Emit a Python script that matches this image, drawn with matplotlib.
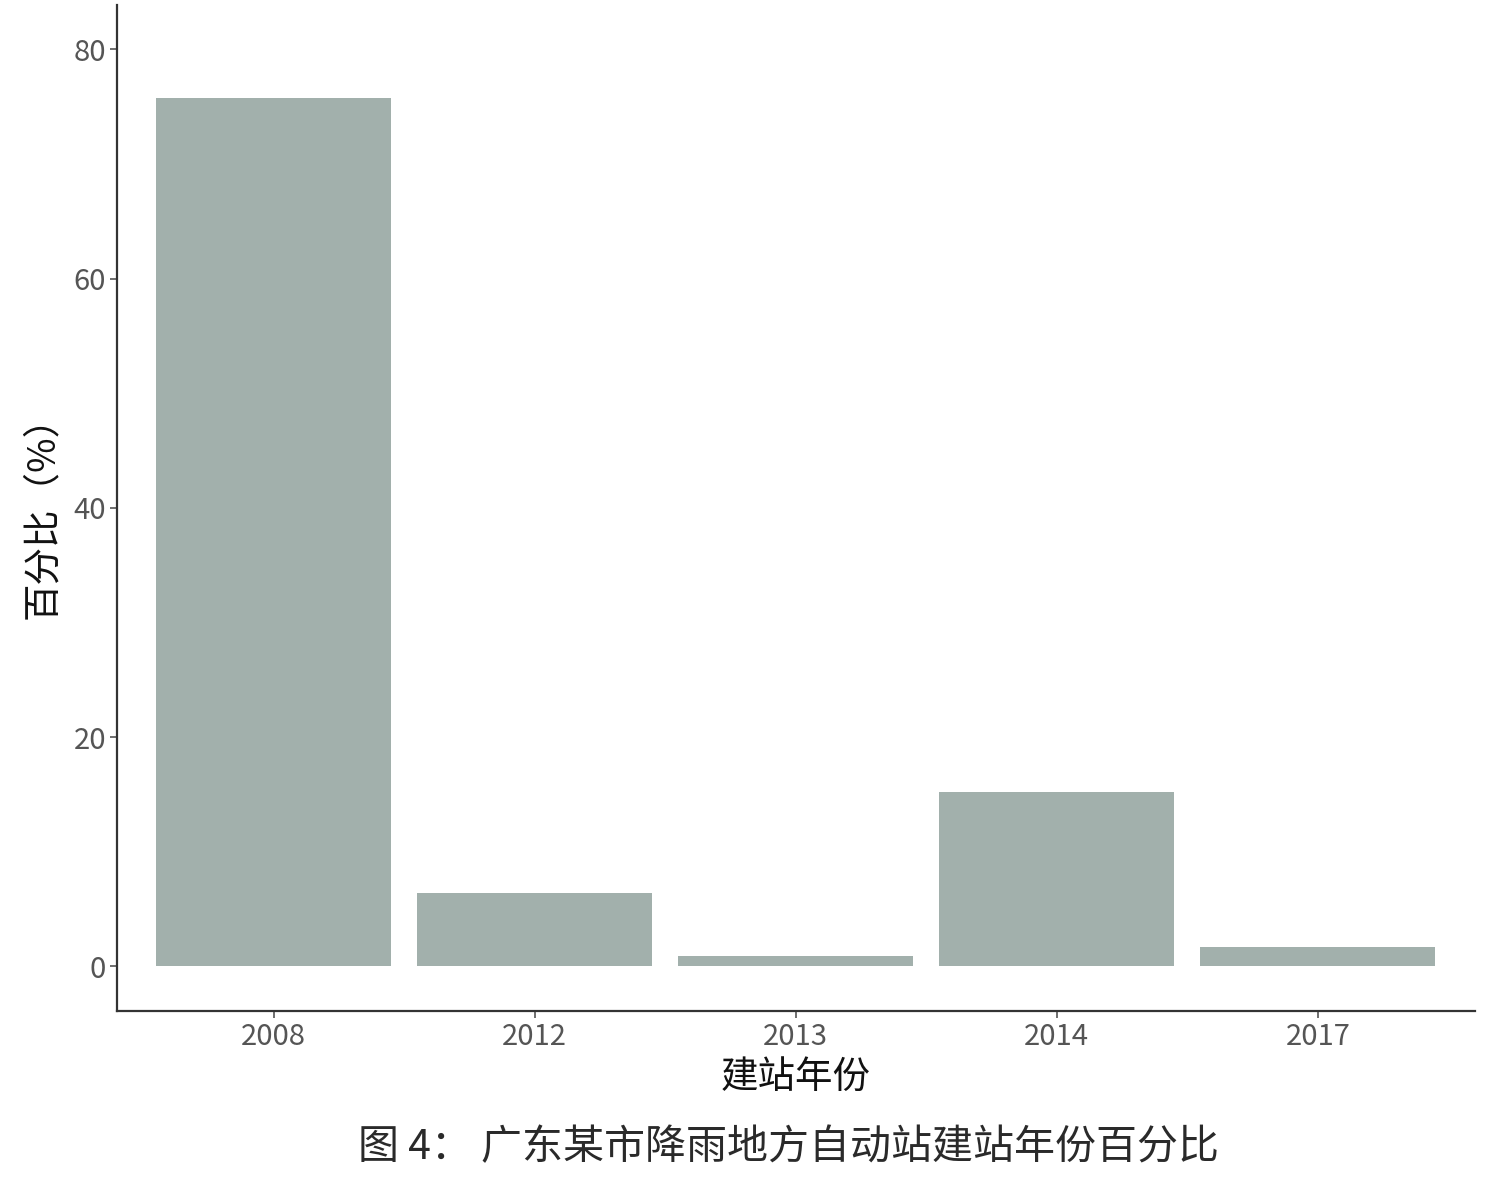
import matplotlib
matplotlib.use("Agg")
import matplotlib.pyplot as plt
import numpy as np

plt.rcParams["font.family"] = ["Noto Sans CJK SC", "DejaVu Sans"]

# build year and share of stations (%)
years = ["2008", "2012", "2013", "2014", "2017"]
percent = [75.8, 6.4, 0.9, 15.2, 1.7]

fig = plt.figure(figsize=(15, 11.81), dpi=100)
ax = fig.add_axes([0.078, 0.144, 0.905, 0.852])

x = np.arange(1, len(years) + 1)
ax.bar(x, percent, width=0.9, color="#a2b0ac")

ax.set_xlim(0.4, 5.6)
ax.set_ylim(-3.9, 83.9)
ax.set_xticks(x)
ax.set_xticklabels(years)
ax.set_yticks([0, 20, 40, 60, 80])

for s in ["top", "right"]:
    ax.spines[s].set_visible(False)
for s in ["left", "bottom"]:
    ax.spines[s].set_color("#333333")
    ax.spines[s].set_linewidth(1.6)

ax.tick_params(axis="both", colors="#555555", labelsize=21, length=5, width=1.2, pad=3)
for lab in ax.get_xticklabels() + ax.get_yticklabels():
    lab.set_color("#555555")

ax.set_xlabel("建站年份", fontsize=27, color="#111111", labelpad=4)
ax.set_ylabel("百分比（%）", fontsize=27, color="#111111", labelpad=8)

fig.text(0.526, 0.028, "图 4： 广东某市降雨地方自动站建站年份百分比",
         fontsize=29.5, color="#2a2a2a", ha="center", va="center")

fig.savefig("out.png", dpi=100, facecolor="white")
